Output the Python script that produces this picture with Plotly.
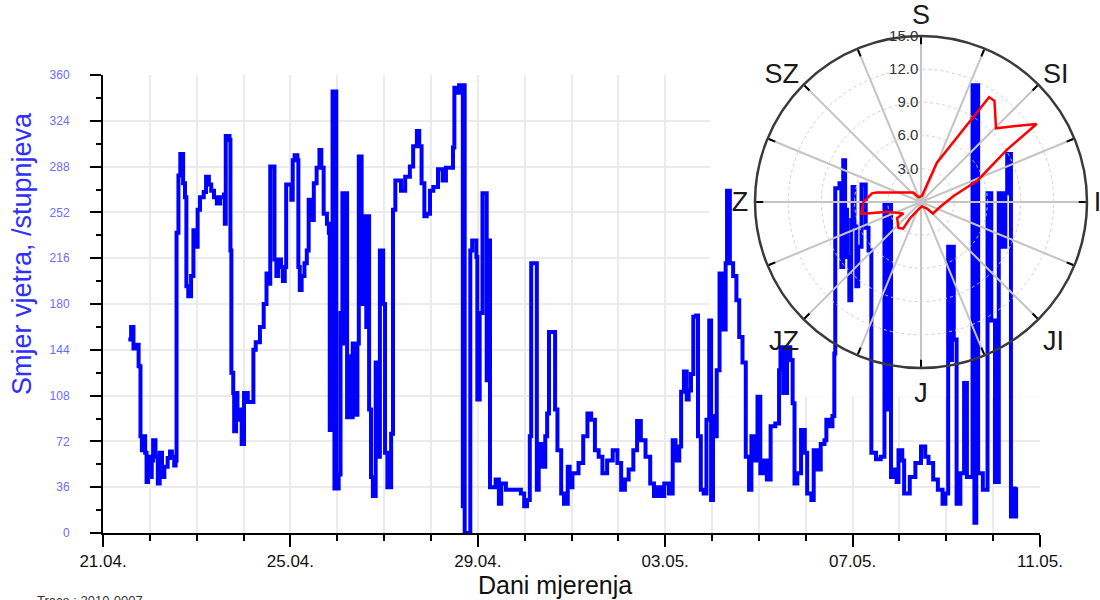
import pandas as pd
import plotly.graph_objects as go

# ---------------- data ----------------
start_date = "2010-04-21"
end_date = "2010-05-11"

# time in days since 21.04. 00:00 and wind direction (degrees)
days = [
    0.54, 0.60, 0.65, 0.70, 0.76, 0.80, 0.83, 0.87, 0.90, 0.93, 0.96, 1.00, 1.04, 1.07, 1.12, 1.17,
    1.21, 1.26, 1.31, 1.38, 1.43, 1.47, 1.52, 1.55, 1.57, 1.61, 1.65, 1.71, 1.75, 1.78, 1.82, 1.88,
    1.93, 1.98, 2.02, 2.07, 2.15, 2.20, 2.26, 2.31, 2.37, 2.43, 2.50, 2.58, 2.60, 2.62, 2.70, 2.72,
    2.74, 2.78, 2.80, 2.84, 2.87, 2.92, 2.96, 3.01, 3.09, 3.17, 3.21, 3.26, 3.35, 3.43, 3.49, 3.54,
    3.57, 3.62, 3.66, 3.70, 3.74, 3.80, 3.84, 3.88, 3.91, 3.98, 4.02, 4.05, 4.09, 4.15, 4.17, 4.20,
    4.24, 4.30, 4.35, 4.39, 4.44, 4.50, 4.56, 4.62, 4.66, 4.71, 4.78, 4.82, 4.84, 4.87, 4.90, 4.94,
    4.96, 4.98, 5.03, 5.07, 5.11, 5.14, 5.17, 5.21, 5.25, 5.29, 5.33, 5.39, 5.43, 5.46, 5.52, 5.56,
    5.62, 5.64, 5.68, 5.72, 5.76, 5.82, 5.86, 5.91, 5.98, 6.02, 6.07, 6.15, 6.19, 6.24, 6.36, 6.45,
    6.55, 6.62, 6.70, 6.75, 6.80, 6.86, 6.91, 6.98, 7.05, 7.15, 7.25, 7.32, 7.47, 7.50, 7.56, 7.60,
    7.66, 7.68, 7.70, 7.72, 7.79, 7.84, 7.88, 7.97, 7.99, 8.04, 8.10, 8.16, 8.19, 8.22, 8.26, 8.28,
    8.38, 8.45, 8.50, 8.60, 8.75, 8.92, 8.99, 9.05, 9.11, 9.14, 9.26, 9.30, 9.36, 9.44, 9.48, 9.52,
    9.60, 9.65, 9.70, 9.78, 9.84, 9.92, 9.96, 10.02, 10.15, 10.25, 10.34, 10.42, 10.50, 10.58, 10.66, 10.76,
    10.88, 10.98, 11.06, 11.14, 11.22, 11.32, 11.40, 11.48, 11.58, 11.68, 11.76, 11.84, 11.90, 11.98, 12.08, 12.16,
    12.22, 12.30, 12.34, 12.40, 12.46, 12.50, 12.55, 12.60, 12.66, 12.70, 12.76, 12.82, 12.88, 12.94, 12.98, 13.02,
    13.06, 13.10, 13.16, 13.23, 13.29, 13.32, 13.38, 13.45, 13.52, 13.58, 13.65, 13.72, 13.79, 13.84, 13.90, 13.97,
    14.03, 14.10, 14.17, 14.25, 14.35, 14.43, 14.46, 14.52, 14.60, 14.67, 14.72, 14.76, 14.82, 14.90, 14.98, 15.03,
    15.12, 15.17, 15.25, 15.32, 15.40, 15.44, 15.50, 15.57, 15.61, 15.63, 15.72, 15.76, 15.80, 15.84, 15.88, 15.93,
    15.97, 16.00, 16.04, 16.08, 16.12, 16.19, 16.28, 16.34, 16.40, 16.50, 16.60, 16.68, 16.74, 16.78, 16.82, 16.88,
    16.94, 16.98, 17.06, 17.10, 17.22, 17.34, 17.46, 17.55, 17.62, 17.72, 17.82, 17.92, 17.98, 18.04, 18.08, 18.12,
    18.16, 18.22, 18.30, 18.38, 18.44, 18.56, 18.60, 18.64, 18.68, 18.78, 18.88, 18.96, 19.04, 19.12, 19.20, 19.26,
    19.30, 19.38, 19.42, 19.46, 19.49,
]
direction = [
    152, 162, 145, 148, 131, 76, 65, 76, 63, 40, 60, 44, 57, 73, 60, 39,
    63, 44, 52, 59, 64, 60, 53, 57, 236, 281, 298, 275, 264, 194, 186, 202,
    238, 225, 254, 264, 268, 280, 274, 269, 264, 259, 264, 266, 243, 312, 309, 222,
    126, 110, 80, 110, 89, 97, 70, 110, 103, 103, 144, 150, 162, 180, 204, 196,
    288, 288, 215, 202, 215, 209, 198, 209, 274, 274, 262, 293, 297, 293, 209, 191,
    202, 212, 222, 262, 246, 275, 287, 301, 287, 251, 243, 236, 81, 114, 347, 35,
    347, 35, 46, 173, 267, 149, 267, 91, 139, 91, 149, 93, 149, 296, 180, 249,
    162, 249, 97, 44, 29, 134, 60, 222, 180, 63, 36, 78, 254, 277, 269, 280,
    288, 304, 316, 304, 275, 249, 251, 269, 272, 286, 277, 287, 303, 350, 346, 352,
    346, 21, 352, 0, 0, 222, 230, 217, 105, 173, 267, 267, 120, 230, 36, 36,
    42, 23, 39, 34, 34, 31, 21, 26, 76, 212, 34, 70, 52, 76, 94, 158,
    158, 97, 65, 31, 23, 52, 36, 47, 55, 76, 94, 89, 65, 60, 47, 57,
    65, 55, 34, 42, 50, 65, 88, 73, 60, 39, 29, 36, 29, 39, 31, 73,
    57, 68, 111, 127, 105, 112, 125, 170, 171, 76, 34, 31, 89, 167, 26, 92,
    76, 128, 204, 160, 212, 269, 212, 202, 183, 154, 134, 60, 34, 76, 57, 107,
    47, 57, 42, 84, 86, 128, 146, 110, 146, 136, 102, 39, 47, 81, 63, 31,
    26, 65, 50, 70, 73, 89, 84, 92, 141, 271, 275, 209, 293, 254, 217, 183,
    246, 272, 241, 194, 225, 274, 240, 222, 63, 58, 60, 259, 97, 259, 44, 50,
    40, 65, 57, 31, 44, 55, 68, 60, 55, 42, 34, 23, 31, 225, 136, 225,
    152, 23, 47, 118, 44, 352, 8, 352, 47, 34, 267, 167, 40, 267, 225, 267,
    298, 13, 35, 13, 36,
]

# wind rose: direction (deg, clockwise from north) and frequency (%)
rose_dir = [0, 10, 22, 33, 36, 45.5, 52, 56, 58.7, 69, 79.5, 104, 134, 138, 170,
            205, 214, 214, 221, 236, 237, 254, 258, 259, 270, 280, 282, 321, 333, 360]
rose_freq = [0.5, 0.6, 3.8, 11.3, 11.3, 9.5, 11.2, 12.6, 9.1, 5.5, 3.0, 1.8, 1.5, 0.8, 0.4,
             0.9, 1.8, 2.9, 3.1, 2.6, 1.9, 3.2, 5.0, 5.5, 5.2, 4.5, 4.1, 1.1, 0.5, 0.5]

compass_vals = [i * 22.5 for i in range(16)]
compass_text = ["S", "", "SI", "", "I", "", "JI", "", "J", "", "JZ", "", "Z", "", "SZ", ""]
radial_ticks = [3, 6, 9, 12, 15]

y_ticks = list(range(0, 361, 36))

# ---------------- figure ----------------
base = pd.Timestamp(start_date)
times = [base + pd.Timedelta(days=d) for d in days]
DAY_MS = 86400000

FONT = "Liberation Sans, Arial, sans-serif"
GRID = "#ebebeb"

fig = go.Figure()

fig.add_trace(go.Scatter(
    x=times, y=direction, mode="lines", line=dict(color="#0000ff", width=4, shape="hv"),
    showlegend=False, hoverinfo="x+y",
))

fig.add_trace(go.Scatterpolar(
    r=rose_freq, theta=rose_dir, mode="lines", line=dict(color="#ff0000", width=2.5),
    showlegend=False, subplot="polar",
))

L, R, T, B = 103, 13, 20, 67
W, H = 1100, 600
pw, ph = W - L - R, H - T - B
plot_right = 1040
plot_top = 75
polar_cx, polar_cy, polar_rad = 921, 202, 166


def px_x(px):
    return (px - L) / pw


def px_y(py):
    return (H - B - py) / ph


fig.update_layout(
    template="none",
    width=W, height=H, autosize=False,
    margin=dict(l=L, r=R, t=T, b=B, autoexpand=False),
    paper_bgcolor="white", plot_bgcolor="white",
    font=dict(family=FONT, color="black"),
    xaxis=dict(
        type="date", range=[base, pd.Timestamp(end_date)], automargin=False,
        domain=[0, px_x(plot_right)],
        tick0=start_date, dtick=4 * DAY_MS, tickformat="%d.%m.",
        ticks="outside", ticklen=12, tickwidth=2, tickcolor="black",
        tickfont=dict(size=17, color="#111"),
        showline=True, linecolor="black", linewidth=2,
        showgrid=True, gridcolor=GRID, gridwidth=1.5, zeroline=False,
        minor=dict(dtick=DAY_MS, ticks="outside", ticklen=6, tickwidth=2, tickcolor="black",
                   showgrid=True, gridcolor=GRID, gridwidth=1.5),
    ),
    yaxis=dict(
        range=[0, 360], domain=[0, px_y(plot_top)], automargin=False,
        tickvals=y_ticks,
        ticks="outside", ticklen=11, tickwidth=2, tickcolor="black",
        tickfont=dict(size=12, color="#6b6bff"), ticklabelstandoff=18,
        showline=True, linecolor="black", linewidth=2,
        showgrid=True, gridcolor=GRID, gridwidth=1.5, zeroline=False,
        minor=dict(dtick=18, ticks="outside", ticklen=5, tickwidth=2, tickcolor="black", showgrid=False),
    ),
    polar=dict(
        domain=dict(x=[px_x(polar_cx - polar_rad), min(1.0, px_x(polar_cx + polar_rad))],
                    y=[px_y(polar_cy + polar_rad), px_y(polar_cy - polar_rad)]),
        bgcolor="rgba(0,0,0,0)",
        angularaxis=dict(
            rotation=90, direction="clockwise",
            tickmode="array", tickvals=compass_vals, ticktext=compass_text,
            tickfont=dict(size=27, color="#1a1a1a"),
            ticks="inside", ticklen=7, tickwidth=2, tickcolor="black",
            showline=True, linecolor="#3a3a3a", linewidth=2.5,
            showgrid=True, gridcolor="#c4c4c4", gridwidth=2,
        ),
        radialaxis=dict(
            range=[0, 15], angle=90, tickangle=90, side="counterclockwise",
            tickmode="array", tickvals=radial_ticks, tickformat=".1f",
            ticksuffix="\u00a0\u00a0\u00a0",
            tickfont=dict(size=15, color="#333"),
            showline=False, ticks="",
            showgrid=True, gridcolor="#cfcfcf", gridwidth=1, griddash="dot",
        ),
    ),
    shapes=[dict(
        type="rect", xref="x", yref="y", layer="between",
        x0=base + pd.Timedelta(days=12.95), x1=pd.Timestamp(end_date), y0=107, y1=360,
        fillcolor="white", line=dict(width=0),
    )],
    annotations=[
        dict(text="Smjer vjetra, /stupnjeva", textangle=-90, xref="paper", yref="paper",
             x=px_x(22), y=px_y(254), xanchor="center", yanchor="middle", showarrow=False,
             font=dict(size=27, color="#2f2fff")),
        dict(text="Dani mjerenja", xref="paper", yref="paper",
             x=px_x(555), y=px_y(585), xanchor="center", yanchor="middle", showarrow=False,
             font=dict(size=25, color="#111")),
        dict(text="Trace : 2010-0007", xref="paper", yref="paper",
             x=px_x(35), y=px_y(591), xanchor="left", yanchor="top", showarrow=False,
             font=dict(size=13, color="#333")),
    ],
)

fig.write_html("out.html")
